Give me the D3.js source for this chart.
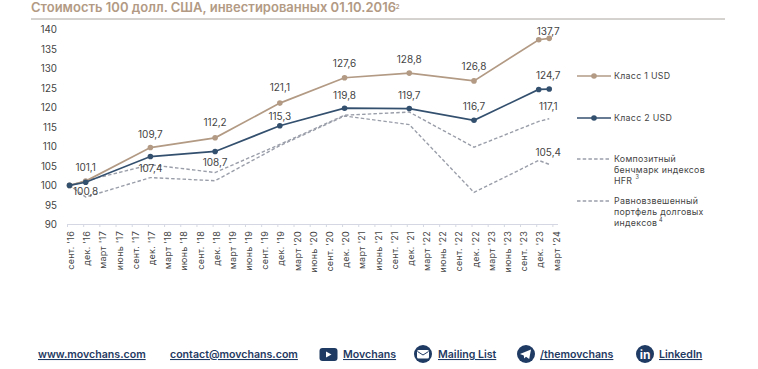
<!DOCTYPE html>
<html>
<head>
<meta charset="utf-8">
<script src="https://cdn.jsdelivr.net/npm/d3@7"></script>
<style>
  body { margin:0; background:#fff; overflow:hidden; }
  text { font-family:"Inter","Noto Sans",sans-serif; }
</style>
</head>
<body>
<svg id="chart" width="758" height="369"></svg>
<script>
const quarters = ["сент. '16","дек. '16","март '17","июнь '17","сент. '17","дек. '17","март '18","июнь '18","сент. '18","дек. '18","март '19","июнь '19","сент. '19","дек. '19","март '20","июнь '20","сент. '20","дек. '20","март '21","июнь '21","сент. '21","дек. '21","март '22","июнь '22","сент. '22","дек. '22","март '23","июнь '23","сент. '23","дек. '23","март '24"];
const yTicks = [90,95,100,105,110,115,120,125,130,135,140];
// the last reading falls before the end of the last quarter
const pointAt = [0,1,5,9,13,17,21,25,29,29.65];
const class1 = [100,101.1,109.7,112.2,121.1,127.6,128.8,126.8,137.35,137.7];
const class2 = [100,100.8,107.4,108.7,115.3,119.8,119.7,116.7,124.6,124.7];
const hfr = [100,101.2,105.3,103.3,110.5,118,118.8,109.8,116.4,117.1];
const debt = [100,97,102,101.2,110.2,117.8,115.6,98.2,106.4,105.4];
const labels1 = ["101,1","109,7","112,2","121,1","127,6","128,8","126,8","137,7"];
const labels2 = ["100,8","107,4","108,7","115,3","119,8","119,7","116,7","124,7"];
const footerLinks = ["www.movchans.com","contact@movchans.com","Movchans","Mailing List","/themovchans","LinkedIn"];

const tan = "#b29a84", navy = "#34506f", grey = "#9a9ea9", ink = "#444444", linkBlue = "#1f3a63";
const svg = d3.select("#chart");

const x = d3.scaleLinear().domain([0,30]).range([69.5,554.9]);
const y = d3.scaleLinear().domain([90,140]).range([224.4,29.4]);

// title
svg.append("text").attr("x",31).attr("y",12)
  .attr("font-size",13).attr("font-weight",600).attr("fill",tan)
  .text("Стоимость 100 долл. США, инвестированных 01.10.2016");
svg.append("text").attr("x",395.5).attr("y",9)
  .attr("font-size",6.5).attr("font-weight",600).attr("fill",tan).text("2");
svg.append("line").attr("x1",31).attr("x2",725).attr("y1",19).attr("y2",19)
  .attr("stroke","#aaa5a0").attr("stroke-width",1);

// y axis labels only
const yAxis = d3.axisLeft(y).tickValues(yTicks).tickSize(0).tickPadding(0);
svg.append("g").attr("transform","translate(57,0)").call(yAxis)
  .call(g=>g.select(".domain").remove())
  .selectAll("text").attr("font-size",9.8).attr("fill",ink).style("font-family","Inter");

// x axis
const xAxis = d3.axisBottom(x.copy().range([67,552.4]))
  .tickValues(d3.range(quarters.length)).tickSize(3).tickFormat(i=>quarters[i]);
const gx = svg.append("g").attr("transform","translate(0,224)").call(xAxis);
gx.select(".domain").attr("d","M67,0.5H558").attr("stroke","#d5d8e2");
gx.selectAll("line").attr("stroke","#d5d8e2");
gx.selectAll("text")
  .attr("font-size",9).attr("letter-spacing",0.25).attr("fill",ink).style("font-family","Inter")
  .attr("text-anchor","end").attr("transform","translate(6.6,0) rotate(-90)")
  .attr("x",-7).attr("y",0).attr("dy",".0em");

// lines
const line = d3.line().x((d,i)=>x(pointAt[i])).y(d=>y(d));
[[hfr,grey],[debt,grey]].forEach(s=>{
  svg.append("path").attr("d",line(s[0])).attr("fill","none")
    .attr("stroke",s[1]).attr("stroke-width",1.4).attr("stroke-dasharray","3.5 2.2");
});
[[class1,tan],[class2,navy]].forEach(s=>{
  svg.append("path").attr("d",line(s[0])).attr("fill","none")
    .attr("stroke",s[1]).attr("stroke-width",1.7);
  svg.append("g").selectAll("circle").data(s[0]).join("circle")
    .attr("cx",(d,i)=>x(pointAt[i])).attr("cy",d=>y(d)).attr("r",2.8).attr("fill",s[1]);
});

// value labels
function valueLabel(txt,at,val,dx,dy) {
  svg.append("text").attr("x",x(at)+dx).attr("y",y(val)+dy)
    .attr("text-anchor","middle").attr("font-size",10).attr("fill",ink).text(txt);
}
const dy1 = [-10.5,-10,-12,-12,-10.6,-10,-10.5,-3];
const dy2 = [13,15.4,15,-6,-9.3,-9.5,-10,-9.6];
labels1.forEach((t,i)=>{
  const last = i==labels1.length-1;
  const k = last ? 9 : i+1;
  valueLabel(t,pointAt[k],class1[k],last?-1:0,dy1[i]);
});
labels2.forEach((t,i)=>{
  const last = i==labels2.length-1;
  const k = last ? 9 : i+1;
  valueLabel(t,pointAt[k],class2[k],last?-1:0,dy2[i]);
});
valueLabel("117,1",pointAt[9],hfr[9],-1,-8.6);
valueLabel("105,4",pointAt[9],debt[9],-1,-8);

// legend
function legendRow(ly,color,dashed,rows,sup) {
  const l = svg.append("line").attr("x1",577).attr("x2",611).attr("y1",ly).attr("y2",ly)
    .attr("stroke",color).attr("stroke-width",dashed?1.4:1.7);
  if (dashed) l.attr("stroke-dasharray","3.5 2.2");
  else svg.append("circle").attr("cx",594).attr("cy",ly).attr("r",2.8).attr("fill",color);
  rows.forEach((r,i)=>{
    svg.append("text").attr("x",614).attr("y",ly+3+i*11.2)
      .attr("font-size",8.8).attr("letter-spacing",0.3).attr("fill",ink).text(r);
  });
  if (sup) svg.append("text").attr("x",sup[0]).attr("y",sup[1]).attr("font-size",5.5).attr("fill",ink).text(sup[2]);
}
legendRow(76,tan,false,["Класс 1 USD"]);
legendRow(118,navy,false,["Класс 2 USD"]);
legendRow(159,grey,true,["Композитный","бенчмарк индексов","HFR"],[635.5,179,"3"]);
legendRow(201,grey,true,["Равновзвешенный","портфель долговых","индексов"],[659,222,"4"]);

// footer
const footX = [38,170,343,438,540,659];
const foot = svg.append("g");
foot.selectAll("text").data(footerLinks).join("text")
  .attr("x",(d,i)=>footX[i]).attr("y",358)
  .attr("font-size",10.6).attr("font-weight",600).attr("fill",linkBlue)
  .attr("text-decoration","underline").text(d=>d);

// footer icons
svg.append("rect").attr("x",319.5).attr("y",348).attr("width",18).attr("height",13).attr("rx",3).attr("fill",linkBlue);
svg.append("path").attr("d","M326,351.5l5.5,3l-5.5,3z").attr("fill","#fff");
svg.append("circle").attr("cx",423).attr("cy",354).attr("r",9).attr("fill",linkBlue);
svg.append("rect").attr("x",417).attr("y",350).attr("width",12).attr("height",8.5).attr("rx",1.5).attr("fill","#fff");
svg.append("path").attr("d","M417.5,351.5l5.5,3.5l5.5,-3.5").attr("fill","none").attr("stroke",linkBlue).attr("stroke-width",1);
svg.append("circle").attr("cx",526).attr("cy",354).attr("r",9).attr("fill",linkBlue);
svg.append("path").attr("d","M520,354l11,-4.5l-1.8,9.5l-3.2,-2.3l-1.8,1.8l-0.4,-3z").attr("fill","#fff");
svg.append("circle").attr("cx",645).attr("cy",354).attr("r",9).attr("fill",linkBlue);
svg.append("text").attr("x",645).attr("y",358.5).attr("text-anchor","middle")
  .attr("font-size",12).attr("font-weight",700).attr("fill","#fff").text("in");
</script>
</body>
</html>
